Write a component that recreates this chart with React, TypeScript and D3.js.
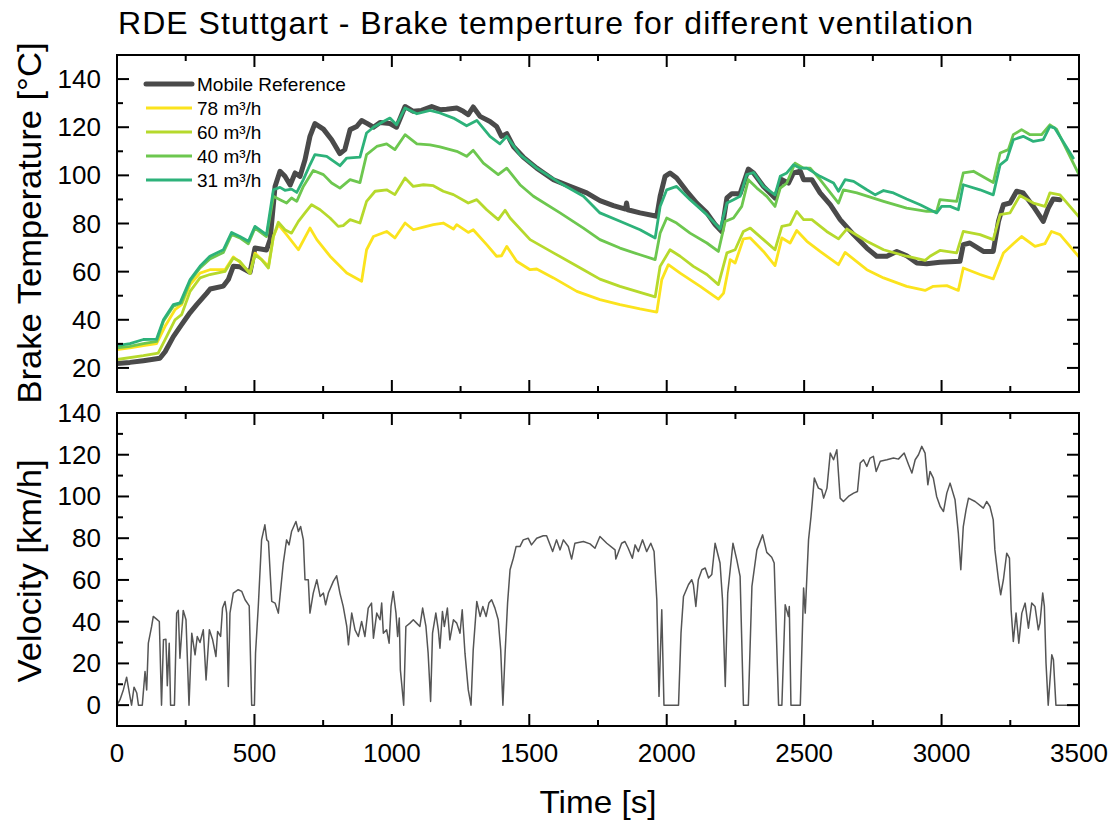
import React from "react";
import * as d3 from "d3";

type Pt = [number, number];

const seriesNames = ["Mobile Reference", "78 m³/h", "60 m³/h", "40 m³/h", "31 m³/h"];
const seriesColors = ["#4a4a4a", "#fbe31d", "#b6d92c", "#6dc74f", "#2db27a"];
const seriesWidths = [5, 2.8, 2.8, 2.8, 2.8];

const mobileRef: Pt[] = [[0,21.8],[47,22.3],[96,23],[156,24],[175,26.7],[205,33],[235,38],[266,43],[290,46.3],[326,51],[339,52.8],[387,54],[405,56.7],[423,62.2],[447,62],[484,59.7],[502,69.8],[544,69],[557,73.3],[575,95.4],[593,101.7],[611,99.6],[630,96],[648,101],[666,99.6],[684,106.5],[702,116.2],[720,121.5],[751,119.2],[781,114.8],[811,109],[829,110.7],[848,119],[872,120.3],[890,122.8],[908,121.7],[933,120],[957,122],[993,121.5],[1017,120],[1048,128.6],[1078,126.6],[1108,127],[1145,128.6],[1175,127.3],[1199,127.5],[1236,128],[1260,126.6],[1278,125.2],[1296,128.4],[1321,124.5],[1357,122.4],[1381,120.3],[1399,116.2],[1418,117.3],[1442,112],[1478,107.6],[1527,103],[1588,98.2],[1648,95.4],[1709,92.7],[1757,89.5],[1806,87.4],[1850,86],[1854,88.5],[1858,85.7],[1903,84.4],[1964,83],[1976,91.3],[1994,99.6],[2012,101],[2036,98.9],[2073,93.4],[2109,88.5],[2146,84.4],[2176,79.6],[2200,76.7],[2219,90.6],[2237,92.4],[2267,92.4],[2297,102.6],[2316,101],[2352,95.4],[2394,90.6],[2419,98.2],[2443,96.8],[2461,101],[2486,101.7],[2498,98.2],[2528,98.2],[2558,92.7],[2595,87.8],[2631,81.6],[2680,75.4],[2728,69.8],[2764,66.4],[2801,66.4],[2837,68.4],[2873,66.6],[2910,63.6],[2946,63.3],[2994,63.9],[3067,64.3],[3079,71.2],[3103,71.9],[3152,68.4],[3188,68.4],[3207,80.9],[3225,87.8],[3249,88.5],[3273,93.4],[3297,92.7],[3334,87.1],[3370,80.9],[3388,86.4],[3406,90.2],[3431,89.9]];

const vent78: Pt[] = [[0,27.6],[47,28.3],[96,29.3],[144,30.1],[175,37.3],[211,44.2],[235,46.3],[266,54.6],[302,59.4],[338,60.8],[393,60.8],[423,66.1],[447,63.9],[484,59.4],[502,67.7],[526,65],[551,62.2],[569,74.6],[587,79.5],[617,75.4],[660,69.1],[702,78.1],[727,73.3],[775,66.4],[836,59.4],[890,56],[908,69.1],[933,74.6],[981,76.7],[1011,74],[1048,80.2],[1078,77.4],[1115,78.5],[1151,79.5],[1187,80.2],[1224,77.7],[1236,79.5],[1278,76.3],[1296,77.4],[1345,71.2],[1381,66.4],[1399,66.6],[1418,70.5],[1454,64.3],[1503,60.8],[1527,61.1],[1588,57.4],[1673,51.8],[1757,48.4],[1830,46.3],[1903,44.5],[1964,43.2],[1982,56.7],[2006,62.9],[2049,59.4],[2122,53.9],[2188,48.6],[2207,51.1],[2231,65],[2249,63.6],[2279,73.6],[2304,74],[2352,68.4],[2394,62.5],[2419,74],[2449,71.9],[2473,77.1],[2510,72.6],[2558,68.4],[2625,62.9],[2649,68],[2728,60.8],[2789,57.4],[2873,53.9],[2940,52.2],[2970,53.9],[3019,54.2],[3061,52.2],[3079,61.5],[3140,58.8],[3188,57],[3225,67.7],[3261,71.6],[3291,74.6],[3340,70.5],[3376,71.6],[3400,76.7],[3431,75.4],[3503,65.7]];

const vent60: Pt[] = [[0,23.5],[96,25.1],[150,26.2],[175,31.8],[211,40],[235,42.1],[266,51.8],[302,57.4],[338,58.8],[393,60.1],[423,65.7],[447,64.3],[484,59.2],[502,67],[526,65],[551,61.5],[569,74.6],[587,80.5],[611,77.4],[635,76],[660,80.9],[684,84.4],[708,87.8],[739,85.7],[775,82.3],[805,78.8],[823,79.1],[848,81.6],[884,80.2],[908,89.2],[939,93.4],[981,94],[1011,92],[1048,98.9],[1078,95.4],[1115,96.1],[1151,95.7],[1187,93.4],[1224,92],[1278,88.5],[1309,89.9],[1345,85.7],[1387,81.6],[1412,85.5],[1430,82.3],[1503,73.3],[1588,67.8],[1697,60.8],[1757,56.9],[1830,53.9],[1903,51.4],[1958,49.5],[1976,62.2],[2012,69.1],[2049,66.4],[2097,62.2],[2146,58.8],[2188,54.6],[2219,67.8],[2249,69.1],[2279,76.7],[2304,78.1],[2352,73.3],[2394,69.1],[2419,78.8],[2449,79.5],[2473,85],[2498,81.6],[2528,81.6],[2582,76.7],[2625,73.6],[2655,77.7],[2728,72.6],[2789,69.1],[2873,66.4],[2940,64.7],[2958,66.4],[2994,68.8],[3055,67.8],[3079,76.7],[3140,75.4],[3188,73.3],[3213,83.7],[3249,84.4],[3285,91.6],[3334,88.5],[3376,87.1],[3394,92.7],[3431,91.9],[3503,82.3]];

const vent40: Pt[] = [[0,28.3],[47,29],[96,30.1],[144,31],[169,39.4],[205,45.6],[235,47],[266,56],[302,61.5],[338,65.3],[387,68],[417,75.4],[447,74],[478,71.6],[502,78.1],[544,74.6],[569,91.3],[593,89.9],[617,88.5],[635,90.6],[654,89.2],[678,95.4],[714,102],[751,100.3],[781,96.8],[811,94.7],[848,98.2],[884,97],[908,108.6],[945,112],[981,113.1],[1011,110.7],[1048,116.9],[1091,113.1],[1139,112.7],[1175,111.8],[1236,110],[1272,107.9],[1296,110.4],[1333,105.1],[1387,100.3],[1418,103],[1466,96.1],[1515,91.3],[1612,84.4],[1697,78.1],[1757,73.3],[1830,69.8],[1903,67],[1958,65],[1976,76],[2000,82.3],[2036,80.2],[2085,76],[2146,71.9],[2188,68.4],[2213,80.9],[2243,82.3],[2273,87.1],[2297,98.2],[2328,94.7],[2364,91.3],[2394,87.1],[2413,94.7],[2437,96.8],[2467,105.1],[2498,103],[2522,103],[2558,98.2],[2625,88.5],[2643,94],[2692,92.7],[2789,89.2],[2873,86.4],[2946,85],[2982,85],[2994,89.9],[3055,89.2],[3079,101],[3116,101.7],[3188,97],[3213,109.3],[3243,110.7],[3261,116.9],[3291,119],[3322,116.9],[3364,116.9],[3394,121],[3418,119.2],[3503,99.6]];

const vent31: Pt[] = [[0,29.3],[47,30.1],[96,31.8],[144,32],[169,40],[205,46.3],[229,47],[266,56.7],[302,62.2],[338,66.4],[387,69.1],[417,76.3],[447,74.6],[478,72.6],[502,78.8],[544,75.4],[569,94],[593,95],[611,93.8],[635,94.3],[654,92.9],[678,98.2],[702,104.4],[720,108.6],[763,107.9],[811,104],[836,107.2],[884,107.6],[908,117.6],[933,120],[969,122.4],[993,123.8],[1017,121],[1048,128],[1091,125.6],[1139,127],[1175,125.9],[1224,123.8],[1272,120.6],[1309,122.8],[1357,116.2],[1393,113.1],[1418,116.2],[1466,108.6],[1527,103],[1612,96.8],[1697,91.3],[1757,84.4],[1830,80.9],[1903,77.4],[1958,74],[1976,87.1],[2000,94],[2036,95.4],[2085,89.9],[2146,83.7],[2194,77.7],[2219,88.5],[2243,89.9],[2267,91.3],[2291,100.3],[2316,101.2],[2352,95.4],[2394,91.9],[2413,99.6],[2437,101],[2461,104.4],[2486,103],[2510,103],[2558,99.6],[2607,96.8],[2625,93.4],[2649,98.2],[2680,97.5],[2728,94],[2759,91.9],[2789,93.7],[2825,92.7],[2873,90.2],[2922,87.8],[2982,84.4],[3000,87.1],[3031,87.1],[3061,85.7],[3079,96.1],[3140,94],[3188,91.9],[3213,104.4],[3237,106.5],[3261,114.8],[3297,116.2],[3334,114.1],[3370,114.8],[3394,120.3],[3412,119.6],[3479,107.2]];

const velocity: Pt[] = [[0,0],[11,2.6],[23,7.3],[35,13.4],[45,5.8],[53,0],[62,8.6],[72,5.8],[78,0],[92,0],[102,16.1],[108,7.3],[114,29.7],[126,37.7],[132,42.5],[144,41.2],[154,40.1],[162,0],[169,31.3],[178,31.6],[183,9.3],[190,29.7],[195,0],[209,0],[217,44.1],[223,45.4],[229,22.5],[241,45.4],[251,40.9],[262,0],[272,34.5],[284,24.1],[292,32.9],[302,30],[314,36.1],[324,12.1],[336,36.1],[348,31.3],[360,23.3],[366,35.3],[377,32.9],[384,46.5],[393,49.7],[399,44.1],[405,8.9],[411,44.1],[423,53.7],[441,55.3],[454,54.5],[466,50.5],[481,47.6],[490,0],[500,0],[504,24.9],[514,47.3],[526,79.2],[538,86.4],[545,79.2],[551,78.4],[563,49.7],[575,48.9],[587,44.1],[605,68.1],[617,79.2],[626,76.8],[635,83.2],[651,88],[660,83.2],[668,85.6],[678,79.2],[684,60.1],[696,60.1],[702,44.1],[714,53.7],[727,60.1],[739,52.1],[751,53.7],[759,48.1],[769,53.7],[787,59.3],[799,62],[811,53.7],[823,47.3],[836,37.7],[842,28.9],[854,44.1],[866,36.1],[878,32.9],[890,40.1],[902,32.9],[914,46.5],[926,48.9],[933,32.1],[945,44.1],[957,40.9],[963,48.9],[969,34.5],[981,36.1],[990,29.7],[997,47.3],[1005,54.5],[1015,44.1],[1021,32.9],[1027,41.7],[1031,16.9],[1043,0],[1051,37.7],[1066,39.3],[1078,40.9],[1090,39.3],[1102,37.7],[1112,46.5],[1124,37.7],[1132,24.9],[1141,1.8],[1148,34.5],[1160,44.1],[1169,36.1],[1175,27.3],[1184,44.9],[1191,37.7],[1202,46.5],[1211,31.3],[1224,40.9],[1236,39.3],[1248,34.5],[1256,45.7],[1266,24.9],[1278,7.3],[1288,0],[1296,26.5],[1309,49.7],[1321,42.5],[1331,47.3],[1343,42.5],[1353,48.9],[1363,50.5],[1375,46.5],[1387,40.9],[1396,26.5],[1404,0],[1412,24.9],[1421,48.9],[1430,64.9],[1442,70.4],[1452,76],[1466,76],[1478,79.2],[1496,80],[1508,76.8],[1527,80],[1551,81.2],[1563,81.2],[1585,73.6],[1599,79.2],[1612,74.4],[1624,79.2],[1642,76],[1654,70],[1666,77.6],[1697,78.4],[1721,77.3],[1739,75.2],[1757,80.8],[1782,77.6],[1812,74.4],[1815,70],[1836,77.6],[1848,78.4],[1860,75.2],[1875,70.4],[1885,76.8],[1897,73.6],[1912,79.2],[1927,73.6],[1942,77.6],[1954,73.6],[1964,50.5],[1972,4.2],[1982,45.7],[1990,0],[2043,0],[2052,34.5],[2061,52.1],[2079,57.7],[2091,60.1],[2097,57.7],[2106,47.3],[2115,60.1],[2128,64.9],[2140,65.7],[2152,60.9],[2164,62.6],[2176,77.6],[2194,68.1],[2203,50.5],[2213,8.9],[2222,53.7],[2241,77.6],[2255,69.6],[2267,61.7],[2279,0],[2297,0],[2310,56.9],[2328,74.4],[2349,81.6],[2364,73.2],[2382,70.9],[2391,68.1],[2407,0],[2419,0],[2431,48.1],[2443,42.5],[2446,47.3],[2452,0],[2486,0],[2498,56.1],[2504,44.1],[2516,79.2],[2525,90.4],[2537,108.8],[2552,104],[2564,103.2],[2571,99.2],[2583,104],[2595,120.8],[2607,117.6],[2619,122.4],[2631,99.2],[2643,97.6],[2661,100],[2680,101.6],[2694,102.4],[2704,116],[2716,117.6],[2728,114.4],[2740,118.4],[2752,119.2],[2762,112],[2777,116.9],[2801,117.6],[2825,118.4],[2843,117.9],[2864,120.8],[2880,115.2],[2892,111.2],[2904,117.6],[2916,120],[2928,124],[2940,120.8],[2950,105.6],[2958,112],[2970,108.8],[2982,100],[2995,95.2],[3007,92.8],[3019,101.6],[3031,106.4],[3049,98.4],[3061,82.4],[3070,64.9],[3079,85.6],[3089,93.6],[3098,99.2],[3122,97.6],[3152,94.4],[3164,97.6],[3176,95.2],[3188,88.8],[3194,74.4],[3207,60.1],[3215,52.9],[3225,60.1],[3237,72.8],[3247,70.4],[3253,45.7],[3261,30.5],[3271,44.1],[3281,29.7],[3292,44.1],[3304,48.9],[3316,36.9],[3328,48.9],[3340,47.3],[3352,36.1],[3358,39.3],[3368,53.7],[3374,47.3],[3380,20.1],[3388,0],[3401,24.1],[3407,21.7],[3416,0],[3500,0]];

const timeTicks = [0, 500, 1000, 1500, 2000, 2500, 3000, 3500];
const timeMinor = [250, 750, 1250, 1750, 2250, 2750, 3250];
const tempTicks = [20, 40, 60, 80, 100, 120, 140];
const tempMinor = [30, 50, 70, 90, 110, 130];
const velTicks = [0, 20, 40, 60, 80, 100, 120, 140];
const velMinor = [10, 30, 50, 70, 90, 110, 130];

const FONT = "'Liberation Sans', Arial, sans-serif";

export default function App() {
  const L = 117, R = 1079;
  const T1 = 55, B1 = 392, T2 = 413, B2 = 726;
  const x = d3.scaleLinear().domain([0, 3500]).range([L, R]);
  const yT = d3.scaleLinear().domain([10, 150]).range([B1, T1]);
  const yV = d3.scaleLinear().domain([-10, 140]).range([B2, T2]);

  const lineT = d3.line<Pt>().x(d => x(d[0])).y(d => yT(d[1]));
  const lineV = d3.line<Pt>().x(d => x(d[0])).y(d => yV(d[1]));
  const tempSeries = [mobileRef, vent78, vent60, vent40, vent31];

  const MJ = 12, MN = 6;
  const xTicksFor = (top: number, bottom: number, key: string) => (
    <g key={key} stroke="#000" strokeWidth={2}>
      {timeTicks.map(t => (
        <g key={"M" + t}>
          <line x1={x(t)} x2={x(t)} y1={bottom} y2={bottom - MJ} />
          <line x1={x(t)} x2={x(t)} y1={top} y2={top + MJ} />
        </g>
      ))}
      {timeMinor.map(t => (
        <g key={"m" + t}>
          <line x1={x(t)} x2={x(t)} y1={bottom} y2={bottom - MN} />
          <line x1={x(t)} x2={x(t)} y1={top} y2={top + MN} />
        </g>
      ))}
    </g>
  );
  const yTicksFor = (scale: d3.ScaleLinear<number, number>, major: number[], minor: number[], key: string) => (
    <g key={key} stroke="#000" strokeWidth={2}>
      {major.map(v => (
        <g key={"M" + v}>
          <line x1={L} x2={L + MJ} y1={scale(v)} y2={scale(v)} />
          <line x1={R} x2={R - MJ} y1={scale(v)} y2={scale(v)} />
        </g>
      ))}
      {minor.map(v => (
        <g key={"m" + v}>
          <line x1={L} x2={L + MN} y1={scale(v)} y2={scale(v)} />
          <line x1={R} x2={R - MN} y1={scale(v)} y2={scale(v)} />
        </g>
      ))}
    </g>
  );

  return (
    <svg width={1115} height={823} style={{ position: "absolute", left: 0, top: 0, background: "#fff" }} fontFamily={FONT}>
      <defs>
        <clipPath id="clipT"><rect x={L} y={T1} width={R - L} height={B1 - T1} /></clipPath>
        <clipPath id="clipV"><rect x={L} y={T2} width={R - L} height={B2 - T2} /></clipPath>
      </defs>
      <rect x={0} y={0} width={1115} height={823} fill="#fff" />

      <text x={118} y={34} fontSize={32} textLength={855} lengthAdjust="spacing" fill="#000">
        RDE Stuttgart - Brake temperture for different ventilation
      </text>

      {/* Top panel lines */}
      <g clipPath="url(#clipT)" fill="none" strokeLinejoin="round" strokeLinecap="round">
        {tempSeries.map((s, i) => (
          <path key={i} d={lineT(s) || ""} stroke={seriesColors[i]} strokeWidth={seriesWidths[i]} />
        ))}
      </g>

      {/* Bottom panel line */}
      <g clipPath="url(#clipV)" fill="none">
        <path d={lineV(velocity) || ""} stroke="#555" strokeWidth={1.5} strokeLinejoin="round" />
      </g>

      {/* Frames */}
      <rect x={L} y={T1} width={R - L} height={B1 - T1} fill="none" stroke="#000" strokeWidth={2} />
      <rect x={L} y={T2} width={R - L} height={B2 - T2} fill="none" stroke="#000" strokeWidth={2} />

      {xTicksFor(T1, B1, "xt1")}
      {xTicksFor(T2, B2, "xt2")}
      {yTicksFor(yT, tempTicks, tempMinor, "yt1")}
      {yTicksFor(yV, velTicks, velMinor, "yt2")}

      {/* Tick labels */}
      <g fontSize={26} fill="#000">
        {tempTicks.map(v => (
          <text key={"tl" + v} x={101} y={yT(v)} textAnchor="end" dominantBaseline="central">{v}</text>
        ))}
        {velTicks.map(v => (
          <text key={"vl" + v} x={101} y={yV(v)} textAnchor="end" dominantBaseline="central">{v}</text>
        ))}
        {timeTicks.map(t => (
          <text key={"xl" + t} x={x(t)} y={762} textAnchor="middle">{t}</text>
        ))}
      </g>

      {/* Axis titles */}
      <text transform="translate(41,223) rotate(-90)" textAnchor="middle" fontSize={33} textLength={361} lengthAdjust="spacingAndGlyphs">
        Brake Temperature [°C]
      </text>
      <text transform="translate(41,571) rotate(-90)" textAnchor="middle" fontSize={33} textLength={223} lengthAdjust="spacingAndGlyphs">
        Velocity [km/h]
      </text>
      <text x={598} y={813} textAnchor="middle" fontSize={32} textLength={117} lengthAdjust="spacingAndGlyphs">
        Time [s]
      </text>

      {/* Legend */}
      <g fontSize={19}>
        {seriesNames.map((n, i) => {
          const yy = 84 + i * 24;
          return (
            <g key={n}>
              <line x1={146} x2={192} y1={yy} y2={yy} stroke={seriesColors[i]} strokeWidth={seriesWidths[i]} strokeLinecap={i === 0 ? "round" : "butt"} />
              <text x={197} y={yy} dominantBaseline="central" fill="#000">{n}</text>
            </g>
          );
        })}
      </g>
    </svg>
  );
}
